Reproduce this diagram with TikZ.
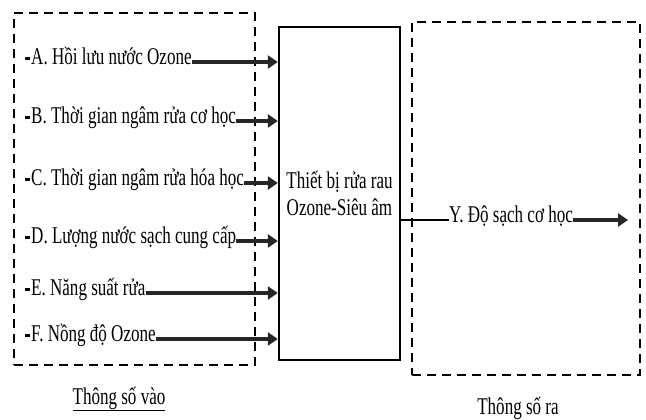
\documentclass[tikz,border=0pt]{standalone}
\usepackage{fontspec}
\setmainfont{Liberation Serif}[FakeStretch=0.71]
\usepackage{tikz}
\usetikzlibrary{arrows.meta,positioning,calc}

\begin{document}
\begin{tikzpicture}[
  x=1pt,y=-1pt,
  font=\fontsize{24}{27}\selectfont,
  dashbox/.style={draw, dash pattern=on 9pt off 6pt, line width=1.2pt, inner sep=0pt},
  unit/.style={draw, line width=2.4pt, align=center, inner sep=0pt, minimum width=121pt, minimum height=333pt},
  param/.style={anchor=mid west, inner sep=0pt},
  inarr/.style={-{Triangle[length=10pt,width=13pt]}, line width=3.2pt, draw=black!85, fill=black!75},
  outarr/.style={-{Triangle[length=10pt,width=13pt]}, line width=3.2pt, draw=black!85, fill=black!75},
  heading/.style={anchor=base, inner sep=0pt}
]
\useasboundingbox (0,0) rectangle (646,420);
\node[dashbox, minimum width=241pt, minimum height=352pt] (inbox) at (134.5,189) {};
\node[dashbox, minimum width=228pt, minimum height=353pt] (outbox) at (526,198.5) {};
\node[unit] (wash) at (339.5,193.5) {Thiết bị rửa rau\\Ozone-Siêu âm};
\foreach \y/\nm/\txt in {62/pa/A. Hồi lưu nước Ozone,
                         121/pb/B. Thời gian ngâm rửa cơ học,
                         183/pc/C. Thời gian ngâm rửa hóa học,
                         241/pd/D. Lượng nước sạch cung cấp,
                         293/pe/E. Năng suất rửa,
                         339/pf/F. Nồng độ Ozone}{
  \node[param] (\nm) at (25,\y) {\rule[0.42ex]{5pt}{3pt}\kern1pt\txt};
  \draw[inarr] (\nm.mid east) -- (\nm.mid east -| wash.west);
}
\node[param] (py) at (449,220) {Y. Độ sạch cơ học};
\coordinate (yend) at (628,220);
\draw[line width=1.4pt] (py.mid west -| wash.east) -- (py.mid west);
\draw[outarr] (py.mid east) -- (yend);
\node[heading] (tin) at (119,404) {\underline{Thông số vào}};
\node[heading] (tout) at (518,414) {\underline{Thông số ra}};
\end{tikzpicture}
\end{document}
